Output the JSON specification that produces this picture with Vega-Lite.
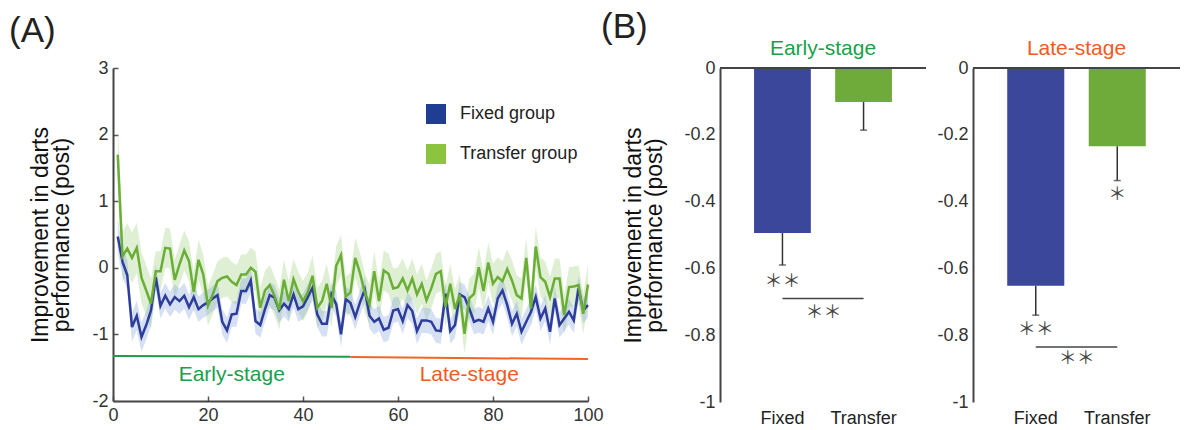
{
"$schema":"https://vega.github.io/schema/vega-lite/v6.json",
"background":"white",
"padding":{"left":8,"top":10,"right":0,"bottom":0},
"config":{
 "font":"Liberation Sans",
 "view":{"stroke":null},
 "axis":{"grid":false,"domainColor":"#444","domainWidth":2,"tickColor":"#555","tickWidth":1.5,"labelColor":"#333","labelFontSize":18,"titleFontSize":23,"titleFontWeight":"normal","titleColor":"#111","titleLineHeight":21},
 "title":{"fontWeight":"normal"}
},
"datasets":{
 "series":[
{"t":1,"Fixed group":0.47,"Transfer group":1.7,"sf":0.25,"st":0.45},
{"t":2,"Fixed group":0.09,"Transfer group":0.17,"sf":0.22,"st":0.38},
{"t":3,"Fixed group":-0.11,"Transfer group":0.29,"sf":0.22,"st":0.38},
{"t":4,"Fixed group":-0.89,"Transfer group":0.15,"sf":0.22,"st":0.38},
{"t":5,"Fixed group":-0.72,"Transfer group":0.3,"sf":0.22,"st":0.38},
{"t":6,"Fixed group":-1.04,"Transfer group":-0.15,"sf":0.22,"st":0.38},
{"t":7,"Fixed group":-0.86,"Transfer group":-0.34,"sf":0.22,"st":0.38},
{"t":8,"Fixed group":-0.64,"Transfer group":-0.54,"sf":0.22,"st":0.38},
{"t":9,"Fixed group":-0.14,"Transfer group":-0.05,"sf":0.19,"st":0.3},
{"t":10,"Fixed group":-0.57,"Transfer group":-0.05,"sf":0.19,"st":0.3},
{"t":11,"Fixed group":-0.42,"Transfer group":0.3,"sf":0.19,"st":0.3},
{"t":12,"Fixed group":-0.55,"Transfer group":0.29,"sf":0.19,"st":0.3},
{"t":13,"Fixed group":-0.44,"Transfer group":-0.18,"sf":0.19,"st":0.3},
{"t":14,"Fixed group":-0.5,"Transfer group":0.05,"sf":0.19,"st":0.3},
{"t":15,"Fixed group":-0.42,"Transfer group":0.26,"sf":0.19,"st":0.3},
{"t":16,"Fixed group":-0.59,"Transfer group":0.1,"sf":0.19,"st":0.3},
{"t":17,"Fixed group":-0.44,"Transfer group":-0.36,"sf":0.19,"st":0.3},
{"t":18,"Fixed group":-0.62,"Transfer group":0.12,"sf":0.19,"st":0.3},
{"t":19,"Fixed group":-0.56,"Transfer group":-0.1,"sf":0.19,"st":0.3},
{"t":20,"Fixed group":-0.52,"Transfer group":-0.57,"sf":0.19,"st":0.3},
{"t":21,"Fixed group":-0.46,"Transfer group":-0.4,"sf":0.19,"st":0.3},
{"t":22,"Fixed group":-0.41,"Transfer group":-0.2,"sf":0.19,"st":0.3},
{"t":23,"Fixed group":-0.81,"Transfer group":-0.15,"sf":0.19,"st":0.3},
{"t":24,"Fixed group":-0.94,"Transfer group":-0.13,"sf":0.19,"st":0.3},
{"t":25,"Fixed group":-0.7,"Transfer group":-0.21,"sf":0.19,"st":0.3},
{"t":26,"Fixed group":-0.69,"Transfer group":-0.26,"sf":0.19,"st":0.3},
{"t":27,"Fixed group":-0.35,"Transfer group":-0.1,"sf":0.19,"st":0.3},
{"t":28,"Fixed group":-0.35,"Transfer group":-0.1,"sf":0.19,"st":0.3},
{"t":29,"Fixed group":-0.19,"Transfer group":0.0,"sf":0.19,"st":0.3},
{"t":30,"Fixed group":-0.8,"Transfer group":-0.06,"sf":0.19,"st":0.3},
{"t":31,"Fixed group":-0.86,"Transfer group":-0.6,"sf":0.19,"st":0.3},
{"t":32,"Fixed group":-0.62,"Transfer group":-0.34,"sf":0.19,"st":0.3},
{"t":33,"Fixed group":-0.41,"Transfer group":-0.26,"sf":0.19,"st":0.3},
{"t":34,"Fixed group":-0.45,"Transfer group":-0.42,"sf":0.19,"st":0.3},
{"t":35,"Fixed group":-0.64,"Transfer group":-0.63,"sf":0.19,"st":0.3},
{"t":36,"Fixed group":-0.54,"Transfer group":-0.18,"sf":0.19,"st":0.3},
{"t":37,"Fixed group":-0.62,"Transfer group":-0.5,"sf":0.19,"st":0.3},
{"t":38,"Fixed group":-0.4,"Transfer group":-0.17,"sf":0.19,"st":0.3},
{"t":39,"Fixed group":-0.62,"Transfer group":-0.36,"sf":0.19,"st":0.3},
{"t":40,"Fixed group":-0.58,"Transfer group":-0.5,"sf":0.19,"st":0.3},
{"t":41,"Fixed group":-0.44,"Transfer group":-0.37,"sf":0.19,"st":0.3},
{"t":42,"Fixed group":-0.3,"Transfer group":-0.12,"sf":0.19,"st":0.3},
{"t":43,"Fixed group":-0.7,"Transfer group":-0.6,"sf":0.19,"st":0.3},
{"t":44,"Fixed group":-0.84,"Transfer group":-0.5,"sf":0.19,"st":0.3},
{"t":45,"Fixed group":-0.84,"Transfer group":-0.24,"sf":0.19,"st":0.3},
{"t":46,"Fixed group":-0.4,"Transfer group":-0.6,"sf":0.19,"st":0.3},
{"t":47,"Fixed group":-0.55,"Transfer group":0.03,"sf":0.19,"st":0.3},
{"t":48,"Fixed group":-1.0,"Transfer group":0.19,"sf":0.19,"st":0.3},
{"t":49,"Fixed group":-0.47,"Transfer group":-0.43,"sf":0.19,"st":0.3},
{"t":50,"Fixed group":-0.53,"Transfer group":-0.37,"sf":0.19,"st":0.3},
{"t":51,"Fixed group":-0.74,"Transfer group":0.15,"sf":0.19,"st":0.3},
{"t":52,"Fixed group":-0.52,"Transfer group":-0.08,"sf":0.19,"st":0.3},
{"t":53,"Fixed group":-0.33,"Transfer group":-0.37,"sf":0.19,"st":0.3},
{"t":54,"Fixed group":-0.72,"Transfer group":-0.55,"sf":0.19,"st":0.3},
{"t":55,"Fixed group":-0.81,"Transfer group":-0.05,"sf":0.19,"st":0.3},
{"t":56,"Fixed group":-0.76,"Transfer group":-0.5,"sf":0.19,"st":0.3},
{"t":57,"Fixed group":-0.93,"Transfer group":-0.04,"sf":0.19,"st":0.3},
{"t":58,"Fixed group":-0.9,"Transfer group":-0.09,"sf":0.19,"st":0.3},
{"t":59,"Fixed group":-0.64,"Transfer group":-0.31,"sf":0.19,"st":0.3},
{"t":60,"Fixed group":-0.62,"Transfer group":-0.29,"sf":0.19,"st":0.3},
{"t":61,"Fixed group":-0.8,"Transfer group":-0.16,"sf":0.19,"st":0.3},
{"t":62,"Fixed group":-0.56,"Transfer group":-0.34,"sf":0.19,"st":0.3},
{"t":63,"Fixed group":-0.65,"Transfer group":-0.16,"sf":0.19,"st":0.3},
{"t":64,"Fixed group":-0.95,"Transfer group":-0.4,"sf":0.19,"st":0.3},
{"t":65,"Fixed group":-0.79,"Transfer group":-0.24,"sf":0.19,"st":0.3},
{"t":66,"Fixed group":-0.79,"Transfer group":-0.49,"sf":0.19,"st":0.3},
{"t":67,"Fixed group":-0.81,"Transfer group":-0.31,"sf":0.19,"st":0.3},
{"t":68,"Fixed group":-0.94,"Transfer group":-0.09,"sf":0.19,"st":0.3},
{"t":69,"Fixed group":-0.95,"Transfer group":-0.05,"sf":0.19,"st":0.3},
{"t":70,"Fixed group":-0.39,"Transfer group":-0.59,"sf":0.19,"st":0.3},
{"t":71,"Fixed group":-0.95,"Transfer group":-0.24,"sf":0.19,"st":0.3},
{"t":72,"Fixed group":-0.86,"Transfer group":-0.62,"sf":0.19,"st":0.3},
{"t":73,"Fixed group":-0.4,"Transfer group":-0.4,"sf":0.19,"st":0.3},
{"t":74,"Fixed group":-0.44,"Transfer group":-0.99,"sf":0.19,"st":0.3},
{"t":75,"Fixed group":-0.61,"Transfer group":-0.46,"sf":0.19,"st":0.3},
{"t":76,"Fixed group":-0.81,"Transfer group":-0.39,"sf":0.19,"st":0.3},
{"t":77,"Fixed group":-0.78,"Transfer group":0.01,"sf":0.19,"st":0.3},
{"t":78,"Fixed group":-0.81,"Transfer group":-0.35,"sf":0.19,"st":0.3},
{"t":79,"Fixed group":-0.61,"Transfer group":0.08,"sf":0.19,"st":0.3},
{"t":80,"Fixed group":-0.81,"Transfer group":-0.24,"sf":0.19,"st":0.3},
{"t":81,"Fixed group":-0.46,"Transfer group":-0.14,"sf":0.19,"st":0.3},
{"t":82,"Fixed group":-0.34,"Transfer group":-0.2,"sf":0.19,"st":0.3},
{"t":83,"Fixed group":-0.56,"Transfer group":-0.02,"sf":0.19,"st":0.3},
{"t":84,"Fixed group":-0.84,"Transfer group":-0.19,"sf":0.19,"st":0.3},
{"t":85,"Fixed group":-0.69,"Transfer group":-0.41,"sf":0.19,"st":0.3},
{"t":86,"Fixed group":-0.96,"Transfer group":-0.46,"sf":0.19,"st":0.3},
{"t":87,"Fixed group":-0.81,"Transfer group":0.15,"sf":0.19,"st":0.3},
{"t":88,"Fixed group":-0.66,"Transfer group":-0.61,"sf":0.19,"st":0.3},
{"t":89,"Fixed group":-0.44,"Transfer group":0.32,"sf":0.19,"st":0.3},
{"t":90,"Fixed group":-0.76,"Transfer group":-0.14,"sf":0.19,"st":0.3},
{"t":91,"Fixed group":-0.61,"Transfer group":-0.21,"sf":0.19,"st":0.3},
{"t":92,"Fixed group":-0.96,"Transfer group":-0.44,"sf":0.19,"st":0.3},
{"t":93,"Fixed group":-0.46,"Transfer group":-0.16,"sf":0.19,"st":0.3},
{"t":94,"Fixed group":-0.86,"Transfer group":-0.16,"sf":0.19,"st":0.3},
{"t":95,"Fixed group":-0.76,"Transfer group":-0.71,"sf":0.19,"st":0.3},
{"t":96,"Fixed group":-0.66,"Transfer group":-0.29,"sf":0.19,"st":0.3},
{"t":97,"Fixed group":-0.79,"Transfer group":-0.28,"sf":0.19,"st":0.3},
{"t":98,"Fixed group":-0.31,"Transfer group":-0.26,"sf":0.19,"st":0.3},
{"t":99,"Fixed group":-0.64,"Transfer group":-0.69,"sf":0.19,"st":0.3},
{"t":100,"Fixed group":-0.56,"Transfer group":-0.25,"sf":0.19,"st":0.3}
 ],
 "stages":[
  {"stage":"Early-stage","x0":0,"x1":50,"y0":-1.325,"y1":-1.335,"lx":25,"ly":-1.61},
  {"stage":"Late-stage","x0":50,"x1":100,"y0":-1.34,"y1":-1.37,"lx":75,"ly":-1.61}
 ],
 "bars":[
  {"stage":"Early-stage","group":"Fixed","v":-0.494,"lo":-0.59},
  {"stage":"Early-stage","group":"Transfer","v":-0.102,"lo":-0.186},
  {"stage":"Late-stage","group":"Fixed","v":-0.652,"lo":-0.74},
  {"stage":"Late-stage","group":"Transfer","v":-0.234,"lo":-0.337}
 ],
 "brackets":[
  {"stage":"Early-stage","a":"Fixed","b":"Transfer","y":-0.69},
  {"stage":"Late-stage","a":"Fixed","b":"Transfer","y":-0.835}
 ],
 "stars":[
  {"stage":"Early-stage","kind":"bar","x":"Fixed","y":-0.64,"label":"＊＊"},
  {"stage":"Early-stage","kind":"pair","x":"Fixed","y":-0.734,"label":"＊＊"},
  {"stage":"Late-stage","kind":"bar","x":"Fixed","y":-0.784,"label":"＊＊"},
  {"stage":"Late-stage","kind":"pair","x":"Fixed","y":-0.87,"label":"＊＊"},
  {"stage":"Late-stage","kind":"bar","x":"Transfer","y":-0.38,"label":"＊"}
 ]
},
"resolve":{"scale":{"color":"independent"},"legend":{"color":"independent"}},
"spacing":-4,
"hconcat":[
 {
  "title":{"text":"(A)","anchor":"start","frame":"bounds","fontSize":35,"color":"#222","dx":-21,"offset":10},
  "width":475,"height":333,
  "layer":[
   {"data":{"name":"series"},
    "mark":{"type":"errorband","color":"#9ccf7c","opacity":0.33},
    "encoding":{
     "x":{"field":"t","type":"quantitative","scale":{"domain":[0,100],"nice":false},"axis":{"values":[0,20,40,60,80,100],"title":null,"tickSize":-5,"labelPadding":10,"labelFlush":false}},
     "y":{"field":"Transfer group","type":"quantitative","scale":{"domain":[-2,3],"nice":false},"title":["Improvement in darts","performance (post)"],"axis":{"values":[3,2,1,0,-1,-2],"tickSize":-5,"labelPadding":10,"titlePadding":18,"labelExpr":"replace(format(datum.value,'~g'),'\u2212','-')"}},
     "yError":{"field":"st"}
    }},
   {"data":{"name":"series"},
    "mark":{"type":"errorband","color":"#7fa0dc","opacity":0.33},
    "encoding":{
     "x":{"field":"t","type":"quantitative"},
     "y":{"field":"Fixed group","type":"quantitative","title":["Improvement in darts","performance (post)"]},
     "yError":{"field":"sf"}
    }},
   {"data":{"name":"series"},
    "transform":[{"fold":["Fixed group","Transfer group"],"as":["g","y"]}],
    "mark":{"type":"line","strokeWidth":2.5},
    "encoding":{
     "x":{"field":"t","type":"quantitative"},
     "y":{"field":"y","type":"quantitative","title":["Improvement in darts","performance (post)"]},
     "color":{"field":"g","type":"nominal","scale":{"domain":["Fixed group","Transfer group"],"range":["#2e3c9c","#6aae35"]},
      "legend":{"title":null,"orient":"none","legendX":313,"legendY":36,"symbolType":"square","symbolSize":400,"symbolStrokeWidth":0,"symbolOpacity":1,"labelFontSize":18,"labelColor":"#222","labelOffset":14,"rowPadding":20,"padding":0,
       "encode":{"symbols":{"update":{"fill":{"signal":"datum.value==='Fixed group'?'#1f3d93':'#8cc43f'"},"opacity":{"value":1}}}}}}
    }},
   {"data":{"name":"stages"},
    "mark":{"type":"rule","strokeWidth":2},
    "encoding":{
     "x":{"field":"x0","type":"quantitative"},"x2":{"field":"x1"},
     "y":{"field":"y0","type":"quantitative","title":["Improvement in darts","performance (post)"]},"y2":{"field":"y1"},
     "stroke":{"field":"stage","type":"nominal","scale":{"domain":["Early-stage","Late-stage"],"range":["#1e9b4b","#f26522"]},"legend":null}
    }},
   {"data":{"name":"stages"},
    "mark":{"type":"text","fontSize":21,"baseline":"middle"},
    "encoding":{
     "x":{"field":"lx","type":"quantitative"},
     "y":{"field":"ly","type":"quantitative","title":["Improvement in darts","performance (post)"]},
     "text":{"field":"stage"},
     "fill":{"field":"stage","type":"nominal","scale":{"domain":["Early-stage","Late-stage"],"range":["#1a9f4b","#f15a24"]},"legend":null}
    }}
  ]
 },
 {
  "title":{"text":"(B)","anchor":"start","frame":"bounds","fontSize":35,"color":"#222","dx":-22,"offset":-7},
  "spacing":9,
  "hconcat":[
   {
    "title":{"text":"Early-stage","color":"#1a9f4b","fontSize":21,"offset":0},
    "width":206,"height":334,
    "layer":[
     {"data":{"name":"bars"},"transform":[{"filter":"datum.stage==='Early-stage'"}],
      "mark":{"type":"bar"},
      "encoding":{
       "x":{"field":"group","type":"nominal","scale":{"domain":["Fixed","Transfer"],"paddingInner":0.3,"paddingOuter":0.42},"axis":{"title":null,"domain":false,"ticks":false,"labelAngle":0,"labelPadding":7,"labelColor":"#222"}},
       "y":{"field":"v","type":"quantitative","scale":{"domain":[-1,0],"nice":false},"title":["Improvement in darts","performance (post)"],"axis":{"values":[0,-0.2,-0.4,-0.6,-0.8,-1],"ticks":false,"labelPadding":5,"titlePadding":17,"labelExpr":"replace(format(datum.value,'~g'),'\u2212','-')"}},
       "color":{"field":"group","type":"nominal","scale":{"domain":["Fixed","Transfer"],"range":["#3a479b","#6eab3a"]},"legend":null}
      }},
     {"data":{"name":"bars"},"transform":[{"filter":"datum.stage==='Early-stage'"}],
      "mark":{"type":"rule","color":"#333","strokeWidth":1.5},
      "encoding":{"x":{"field":"group","type":"nominal"},"y":{"field":"v","type":"quantitative"},"y2":{"field":"lo"}}},
     {"data":{"name":"bars"},"transform":[{"filter":"datum.stage==='Early-stage'"}],
      "mark":{"type":"tick","color":"#333","thickness":1.5,"size":7},
      "encoding":{"x":{"field":"group","type":"nominal"},"y":{"field":"lo","type":"quantitative"}}},
     {"data":{"name":"bars"},"transform":[{"filter":"datum.stage==='Early-stage'"}],
      "mark":{"type":"rule","color":"#444","strokeWidth":2},
      "encoding":{"y":{"datum":0,"type":"quantitative"}}},
     {"data":{"name":"brackets"},"transform":[{"filter":"datum.stage==='Early-stage'"}],
      "mark":{"type":"rule","color":"#444","strokeWidth":1.5},
      "encoding":{"x":{"field":"a","type":"nominal"},"x2":{"field":"b"},"y":{"field":"y","type":"quantitative"}}},
     {"data":{"name":"stars"},"transform":[{"filter":"datum.stage==='Early-stage' && datum.kind==='bar'"}],
      "mark":{"type":"text","font":"Noto Sans CJK JP","fontSize":18,"color":"#444","baseline":"middle"},
      "encoding":{"x":{"field":"x","type":"nominal"},"y":{"field":"y","type":"quantitative"},"text":{"field":"label"}}},
     {"data":{"name":"stars"},"transform":[{"filter":"datum.stage==='Early-stage' && datum.kind==='pair'"}],
      "mark":{"type":"text","font":"Noto Sans CJK JP","fontSize":18,"color":"#444","baseline":"middle","dx":41},
      "encoding":{"x":{"field":"x","type":"nominal"},"y":{"field":"y","type":"quantitative"},"text":{"field":"label"}}}
    ]
   },
   {
    "title":{"text":"Late-stage","color":"#f15a24","fontSize":21,"offset":0},
    "width":207,"height":334,
    "layer":[
     {"data":{"name":"bars"},"transform":[{"filter":"datum.stage==='Late-stage'"}],
      "mark":{"type":"bar"},
      "encoding":{
       "x":{"field":"group","type":"nominal","scale":{"domain":["Fixed","Transfer"],"paddingInner":0.3,"paddingOuter":0.42},"axis":{"title":null,"domain":false,"ticks":false,"labelAngle":0,"labelPadding":7,"labelColor":"#222"}},
       "y":{"field":"v","type":"quantitative","scale":{"domain":[-1,0],"nice":false},"title":null,"axis":{"values":[0,-0.2,-0.4,-0.6,-0.8,-1],"ticks":false,"labelPadding":5,"labelExpr":"replace(format(datum.value,'~g'),'\u2212','-')"}},
       "color":{"field":"group","type":"nominal","scale":{"domain":["Fixed","Transfer"],"range":["#3a479b","#6eab3a"]},"legend":null}
      }},
     {"data":{"name":"bars"},"transform":[{"filter":"datum.stage==='Late-stage'"}],
      "mark":{"type":"rule","color":"#333","strokeWidth":1.5},
      "encoding":{"x":{"field":"group","type":"nominal"},"y":{"field":"v","type":"quantitative","title":null},"y2":{"field":"lo"}}},
     {"data":{"name":"bars"},"transform":[{"filter":"datum.stage==='Late-stage'"}],
      "mark":{"type":"tick","color":"#333","thickness":1.5,"size":7},
      "encoding":{"x":{"field":"group","type":"nominal"},"y":{"field":"lo","type":"quantitative","title":null}}},
     {"data":{"name":"bars"},"transform":[{"filter":"datum.stage==='Late-stage'"}],
      "mark":{"type":"rule","color":"#444","strokeWidth":2},
      "encoding":{"y":{"datum":0,"type":"quantitative","title":null}}},
     {"data":{"name":"brackets"},"transform":[{"filter":"datum.stage==='Late-stage'"}],
      "mark":{"type":"rule","color":"#444","strokeWidth":1.5},
      "encoding":{"x":{"field":"a","type":"nominal"},"x2":{"field":"b"},"y":{"field":"y","type":"quantitative","title":null}}},
     {"data":{"name":"stars"},"transform":[{"filter":"datum.stage==='Late-stage' && datum.kind==='bar'"}],
      "mark":{"type":"text","font":"Noto Sans CJK JP","fontSize":18,"color":"#444","baseline":"middle"},
      "encoding":{"x":{"field":"x","type":"nominal"},"y":{"field":"y","type":"quantitative","title":null},"text":{"field":"label"}}},
     {"data":{"name":"stars"},"transform":[{"filter":"datum.stage==='Late-stage' && datum.kind==='pair'"}],
      "mark":{"type":"text","font":"Noto Sans CJK JP","fontSize":18,"color":"#444","baseline":"middle","dx":41},
      "encoding":{"x":{"field":"x","type":"nominal"},"y":{"field":"y","type":"quantitative","title":null},"text":{"field":"label"}}}
    ]
   }
  ]
 }
]
}
